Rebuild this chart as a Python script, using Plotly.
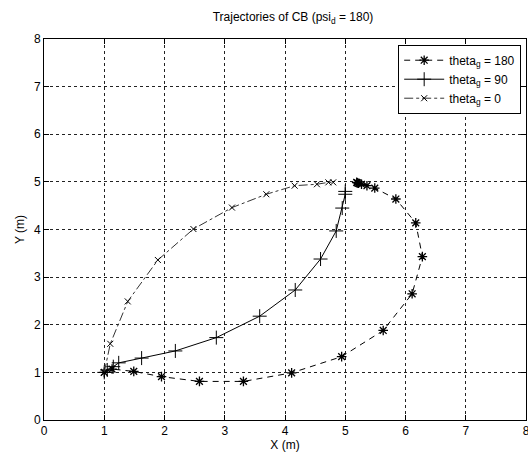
import plotly.graph_objects as go

# theta_g = 180 trajectory
x180 = [1.0, 1.13, 1.49, 1.95, 2.58, 3.31, 4.11, 4.94, 5.63, 6.11, 6.28, 6.17, 5.84, 5.49, 5.36, 5.27, 5.22, 5.20, 5.19]
y180 = [1.0, 1.07, 1.02, 0.91, 0.81, 0.81, 0.99, 1.33, 1.88, 2.65, 3.43, 4.14, 4.64, 4.87, 4.92, 4.95, 4.97, 4.98, 4.99]
# theta_g = 90 trajectory
x90 = [1.0, 1.05, 1.15, 1.24, 1.62, 2.18, 2.86, 3.58, 4.17, 4.59, 4.85, 4.95, 5.0, 5.0]
y90 = [1.0, 1.05, 1.12, 1.20, 1.30, 1.45, 1.73, 2.18, 2.73, 3.38, 3.97, 4.45, 4.74, 4.80]
# theta_g = 0 trajectory
x0 = [1.0, 1.10, 1.39, 1.89, 2.48, 3.12, 3.69, 4.16, 4.53, 4.72, 4.80]
y0 = [1.0, 1.60, 2.49, 3.36, 4.01, 4.46, 4.74, 4.92, 4.95, 4.99, 4.99]

ticks = [0, 1, 2, 3, 4, 5, 6, 7, 8]

font = dict(family="Liberation Sans, Arial, sans-serif", size=12, color="black")

fig = go.Figure()
fig.add_trace(go.Scatter(x=x180, y=y180, mode="lines+markers", name="theta<sub>g</sub> = 180",
                         line=dict(color="black", width=1, dash="6px,5px"),
                         marker=dict(symbol="asterisk-open", size=8, color="black", line=dict(width=1.3, color="black"))))
fig.add_trace(go.Scatter(x=x90, y=y90, mode="lines+markers", name="theta<sub>g</sub> = 90",
                         line=dict(color="black", width=1),
                         marker=dict(symbol="cross-thin-open", size=10, color="black", line=dict(width=1, color="black"))))
fig.add_trace(go.Scatter(x=x0, y=y0, mode="lines+markers", name="theta<sub>g</sub> = 0",
                         line=dict(color="#333333", width=1, dash="dashdot"),
                         marker=dict(symbol="x-thin-open", size=6, color="black", line=dict(width=1, color="black"))))

axis_common = dict(range=[0, 8], tickvals=ticks, ticktext=[str(t) for t in ticks],
                   showgrid=True, gridcolor="#222222", gridwidth=1, griddash="3px,3px",
                   showline=True, linecolor="black", linewidth=1, mirror="ticks",
                   ticks="inside", ticklen=5, tickcolor="black", zeroline=False,
                   tickfont=font, ticklabeloverflow="allow", automargin=False)

fig.update_layout(
    width=528, height=458,
    margin=dict(l=44, r=2, t=39, b=38),
    paper_bgcolor="white", plot_bgcolor="white",
    font=font,
    title=dict(text="Trajectories of CB (psi<sub>d</sub> = 180)", x=0.555, xanchor="center",
               y=0.963, yanchor="middle", font=dict(size=12, color="black", family=font["family"])),
    xaxis=dict(**axis_common, title=dict(text="X (m)", standoff=1, font=font)),
    yaxis=dict(**axis_common, title=dict(text="Y (m)", standoff=6, font=font)),
    legend=dict(x=0.99, y=0.985, xanchor="right", yanchor="top", bgcolor="white",
                bordercolor="black", borderwidth=1, font=dict(family=font["family"], size=12, color="black"),
                tracegroupgap=0, itemwidth=40),
    showlegend=True,
)

fig.write_html("out.html")
